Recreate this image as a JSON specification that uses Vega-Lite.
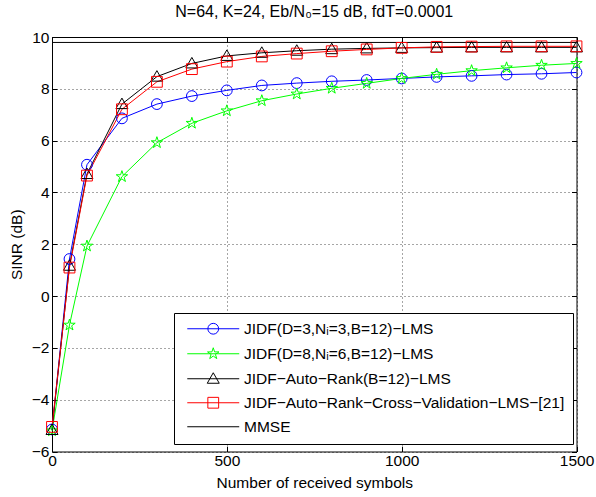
{
  "$schema": "https://vega.github.io/schema/vega-lite/v6.json",
  "autosize": "none",
  "width": 524.5,
  "height": 414.5,
  "padding": {"left": 52, "top": 37, "right": 19.5, "bottom": 45.5},
  "background": "white",
  "config": {
    "font": "Liberation Sans",
    "view": {"stroke": "black", "strokeWidth": 1},
    "axis": {"labelFont": "Liberation Sans", "titleFont": "Liberation Sans", "labelColor": "black", "titleColor": "black", "tickColor": "black", "labelFontSize": 15.5, "titleFontSize": 15.5, "titleFontWeight": "normal"}
  },
  "title": {"text": "N=64, K=24, Eb/N\u2080=15 dB, fdT=0.0001", "fontSize": 16, "fontWeight": "normal", "font": "Liberation Sans", "color": "black", "offset": 10},
  "data": {"values": [
    {"s": "JIDF(D=3,N\u1d62=3,B=12)\u2212LMS", "x": 0, "y": -5.15},
    {"s": "JIDF(D=3,N\u1d62=3,B=12)\u2212LMS", "x": 50, "y": 1.43},
    {"s": "JIDF(D=3,N\u1d62=3,B=12)\u2212LMS", "x": 100, "y": 5.07},
    {"s": "JIDF(D=3,N\u1d62=3,B=12)\u2212LMS", "x": 200, "y": 6.86},
    {"s": "JIDF(D=3,N\u1d62=3,B=12)\u2212LMS", "x": 300, "y": 7.41},
    {"s": "JIDF(D=3,N\u1d62=3,B=12)\u2212LMS", "x": 400, "y": 7.72},
    {"s": "JIDF(D=3,N\u1d62=3,B=12)\u2212LMS", "x": 500, "y": 7.94},
    {"s": "JIDF(D=3,N\u1d62=3,B=12)\u2212LMS", "x": 600, "y": 8.13},
    {"s": "JIDF(D=3,N\u1d62=3,B=12)\u2212LMS", "x": 700, "y": 8.22},
    {"s": "JIDF(D=3,N\u1d62=3,B=12)\u2212LMS", "x": 800, "y": 8.29},
    {"s": "JIDF(D=3,N\u1d62=3,B=12)\u2212LMS", "x": 900, "y": 8.34},
    {"s": "JIDF(D=3,N\u1d62=3,B=12)\u2212LMS", "x": 1000, "y": 8.40},
    {"s": "JIDF(D=3,N\u1d62=3,B=12)\u2212LMS", "x": 1100, "y": 8.46},
    {"s": "JIDF(D=3,N\u1d62=3,B=12)\u2212LMS", "x": 1200, "y": 8.50},
    {"s": "JIDF(D=3,N\u1d62=3,B=12)\u2212LMS", "x": 1300, "y": 8.55},
    {"s": "JIDF(D=3,N\u1d62=3,B=12)\u2212LMS", "x": 1400, "y": 8.58},
    {"s": "JIDF(D=3,N\u1d62=3,B=12)\u2212LMS", "x": 1500, "y": 8.63},
    {"s": "JIDF(D=8,N\u1d62=6,B=12)\u2212LMS", "x": 0, "y": -5.2},
    {"s": "JIDF(D=8,N\u1d62=6,B=12)\u2212LMS", "x": 50, "y": -1.12},
    {"s": "JIDF(D=8,N\u1d62=6,B=12)\u2212LMS", "x": 100, "y": 1.93},
    {"s": "JIDF(D=8,N\u1d62=6,B=12)\u2212LMS", "x": 200, "y": 4.61},
    {"s": "JIDF(D=8,N\u1d62=6,B=12)\u2212LMS", "x": 300, "y": 5.92},
    {"s": "JIDF(D=8,N\u1d62=6,B=12)\u2212LMS", "x": 400, "y": 6.67},
    {"s": "JIDF(D=8,N\u1d62=6,B=12)\u2212LMS", "x": 500, "y": 7.15},
    {"s": "JIDF(D=8,N\u1d62=6,B=12)\u2212LMS", "x": 600, "y": 7.54},
    {"s": "JIDF(D=8,N\u1d62=6,B=12)\u2212LMS", "x": 700, "y": 7.80},
    {"s": "JIDF(D=8,N\u1d62=6,B=12)\u2212LMS", "x": 800, "y": 8.02},
    {"s": "JIDF(D=8,N\u1d62=6,B=12)\u2212LMS", "x": 900, "y": 8.21},
    {"s": "JIDF(D=8,N\u1d62=6,B=12)\u2212LMS", "x": 1000, "y": 8.40},
    {"s": "JIDF(D=8,N\u1d62=6,B=12)\u2212LMS", "x": 1100, "y": 8.56},
    {"s": "JIDF(D=8,N\u1d62=6,B=12)\u2212LMS", "x": 1200, "y": 8.70},
    {"s": "JIDF(D=8,N\u1d62=6,B=12)\u2212LMS", "x": 1300, "y": 8.81},
    {"s": "JIDF(D=8,N\u1d62=6,B=12)\u2212LMS", "x": 1400, "y": 8.91},
    {"s": "JIDF(D=8,N\u1d62=6,B=12)\u2212LMS", "x": 1500, "y": 8.98},
    {"s": "JIDF\u2212Auto\u2212Rank(B=12)\u2212LMS", "x": 0, "y": -5.17},
    {"s": "JIDF\u2212Auto\u2212Rank(B=12)\u2212LMS", "x": 50, "y": 1.17},
    {"s": "JIDF\u2212Auto\u2212Rank(B=12)\u2212LMS", "x": 100, "y": 4.71},
    {"s": "JIDF\u2212Auto\u2212Rank(B=12)\u2212LMS", "x": 200, "y": 7.41},
    {"s": "JIDF\u2212Auto\u2212Rank(B=12)\u2212LMS", "x": 300, "y": 8.47},
    {"s": "JIDF\u2212Auto\u2212Rank(B=12)\u2212LMS", "x": 400, "y": 8.98},
    {"s": "JIDF\u2212Auto\u2212Rank(B=12)\u2212LMS", "x": 500, "y": 9.27},
    {"s": "JIDF\u2212Auto\u2212Rank(B=12)\u2212LMS", "x": 600, "y": 9.39},
    {"s": "JIDF\u2212Auto\u2212Rank(B=12)\u2212LMS", "x": 700, "y": 9.47},
    {"s": "JIDF\u2212Auto\u2212Rank(B=12)\u2212LMS", "x": 800, "y": 9.53},
    {"s": "JIDF\u2212Auto\u2212Rank(B=12)\u2212LMS", "x": 900, "y": 9.56},
    {"s": "JIDF\u2212Auto\u2212Rank(B=12)\u2212LMS", "x": 1000, "y": 9.58},
    {"s": "JIDF\u2212Auto\u2212Rank(B=12)\u2212LMS", "x": 1100, "y": 9.59},
    {"s": "JIDF\u2212Auto\u2212Rank(B=12)\u2212LMS", "x": 1200, "y": 9.60},
    {"s": "JIDF\u2212Auto\u2212Rank(B=12)\u2212LMS", "x": 1300, "y": 9.60},
    {"s": "JIDF\u2212Auto\u2212Rank(B=12)\u2212LMS", "x": 1400, "y": 9.60},
    {"s": "JIDF\u2212Auto\u2212Rank(B=12)\u2212LMS", "x": 1500, "y": 9.60},
    {"s": "JIDF\u2212Auto\u2212Rank\u2212Cross\u2212Validation\u2212LMS\u2212[21]", "x": 0, "y": -5.05},
    {"s": "JIDF\u2212Auto\u2212Rank\u2212Cross\u2212Validation\u2212LMS\u2212[21]", "x": 50, "y": 1.10},
    {"s": "JIDF\u2212Auto\u2212Rank\u2212Cross\u2212Validation\u2212LMS\u2212[21]", "x": 100, "y": 4.65},
    {"s": "JIDF\u2212Auto\u2212Rank\u2212Cross\u2212Validation\u2212LMS\u2212[21]", "x": 200, "y": 7.21},
    {"s": "JIDF\u2212Auto\u2212Rank\u2212Cross\u2212Validation\u2212LMS\u2212[21]", "x": 300, "y": 8.27},
    {"s": "JIDF\u2212Auto\u2212Rank\u2212Cross\u2212Validation\u2212LMS\u2212[21]", "x": 400, "y": 8.76},
    {"s": "JIDF\u2212Auto\u2212Rank\u2212Cross\u2212Validation\u2212LMS\u2212[21]", "x": 500, "y": 9.05},
    {"s": "JIDF\u2212Auto\u2212Rank\u2212Cross\u2212Validation\u2212LMS\u2212[21]", "x": 600, "y": 9.25},
    {"s": "JIDF\u2212Auto\u2212Rank\u2212Cross\u2212Validation\u2212LMS\u2212[21]", "x": 700, "y": 9.36},
    {"s": "JIDF\u2212Auto\u2212Rank\u2212Cross\u2212Validation\u2212LMS\u2212[21]", "x": 800, "y": 9.45},
    {"s": "JIDF\u2212Auto\u2212Rank\u2212Cross\u2212Validation\u2212LMS\u2212[21]", "x": 900, "y": 9.52},
    {"s": "JIDF\u2212Auto\u2212Rank\u2212Cross\u2212Validation\u2212LMS\u2212[21]", "x": 1000, "y": 9.58},
    {"s": "JIDF\u2212Auto\u2212Rank\u2212Cross\u2212Validation\u2212LMS\u2212[21]", "x": 1100, "y": 9.62},
    {"s": "JIDF\u2212Auto\u2212Rank\u2212Cross\u2212Validation\u2212LMS\u2212[21]", "x": 1200, "y": 9.63},
    {"s": "JIDF\u2212Auto\u2212Rank\u2212Cross\u2212Validation\u2212LMS\u2212[21]", "x": 1300, "y": 9.64},
    {"s": "JIDF\u2212Auto\u2212Rank\u2212Cross\u2212Validation\u2212LMS\u2212[21]", "x": 1400, "y": 9.64},
    {"s": "JIDF\u2212Auto\u2212Rank\u2212Cross\u2212Validation\u2212LMS\u2212[21]", "x": 1500, "y": 9.64},
    {"s": "MMSE", "x": 0, "y": 9.79},
    {"s": "MMSE", "x": 1500, "y": 9.79}
  ]},
  "resolve": {"axis": {"x": "independent", "y": "independent"}},
  "layer": [
    {
      "mark": {"type": "line", "strokeWidth": 1},
      "encoding": {
        "x": {"field": "x", "type": "quantitative", "scale": {"domain": [0, 1500], "nice": false, "zero": false},
          "axis": {"orient": "bottom", "values": [0, 500, 1000, 1500], "format": "d", "grid": true, "gridColor": "black", "gridOpacity": 0.7, "gridDash": [1, 3], "domain": false, "tickSize": -5, "labelPadding": 7, "labelFlush": false, "title": "Number of received symbols", "titlePadding": 6}},
        "y": {"field": "y", "type": "quantitative", "scale": {"domain": [-6, 10], "nice": false, "zero": false},
          "axis": {"orient": "left", "values": [-6, -4, -2, 0, 2, 4, 6, 8, 10], "format": "d", "grid": true, "gridColor": "black", "gridOpacity": 0.7, "gridDash": [1, 3], "domain": false, "tickSize": -5, "labelPadding": 8, "labelFlush": false, "title": "SINR (dB)", "titlePadding": 7}},
        "color": {"field": "s", "type": "nominal",
          "scale": {"domain": ["JIDF(D=3,N\u1d62=3,B=12)\u2212LMS", "JIDF(D=8,N\u1d62=6,B=12)\u2212LMS", "JIDF\u2212Auto\u2212Rank(B=12)\u2212LMS", "JIDF\u2212Auto\u2212Rank\u2212Cross\u2212Validation\u2212LMS\u2212[21]", "MMSE"],
            "range": ["#0000ff", "#00ff00", "#000000", "#ff0000", "#000000"]},
          "legend": {"orient": "none", "legendX": 122, "legendY": 276, "title": null, "fillColor": "white", "strokeColor": "black", "padding": 8, "rowPadding": 7, "symbolOffset": 23.5, "labelOffset": 23, "labelFont": "Liberation Sans", "labelFontSize": 15.5, "labelColor": "black", "labelLimit": 600, "symbolSize": 144, "symbolStrokeWidth": 1,
            "encode": {"symbols": {"update": {
              "shape": {"signal": "['M-4.33,0L4.33,0M0.9,0A0.9,0.9 0 1 1 -0.9,0A0.9,0.9 0 1 1 0.9,0Z', 'M-4.33,0L4.33,0M0,-1L0.2245,-0.309L0.951,-0.309L0.3633,0.118L0.5878,0.809L0,0.382L-0.5878,0.809L-0.3633,0.118L-0.951,-0.309L-0.2245,-0.309Z', 'M-4.33,0L4.33,0M0,-1L1,0.75L-1,0.75Z', 'M-4.33,0L4.33,0M-0.9,-0.9L0.9,-0.9L0.9,0.9L-0.9,0.9Z', 'M-4.33,0L4.33,0'][datum.index]"},
              "fill": {"value": "transparent"},
              "strokeWidth": {"value": 1}
            }}}
          }
        }
      }
    },
    {
      "transform": [{"filter": "datum.s != 'MMSE'"}],
      "mark": {"type": "point", "filled": false, "size": 144, "strokeWidth": 1, "opacity": 1},
      "encoding": {
        "x": {"field": "x", "type": "quantitative",
          "axis": {"orient": "top", "values": [0, 500, 1000, 1500], "labels": false, "grid": false, "domain": false, "tickSize": -5, "title": null}},
        "y": {"field": "y", "type": "quantitative",
          "axis": {"orient": "right", "values": [-6, -4, -2, 0, 2, 4, 6, 8, 10], "labels": false, "grid": false, "domain": false, "tickSize": -5, "title": null}},
        "color": {"field": "s", "type": "nominal"},
        "shape": {"field": "s", "type": "nominal", "legend": null,
          "scale": {"domain": ["JIDF(D=3,N\u1d62=3,B=12)\u2212LMS", "JIDF(D=8,N\u1d62=6,B=12)\u2212LMS", "JIDF\u2212Auto\u2212Rank(B=12)\u2212LMS", "JIDF\u2212Auto\u2212Rank\u2212Cross\u2212Validation\u2212LMS\u2212[21]"],
            "range": ["M0.9,0A0.9,0.9 0 1 1 -0.9,0A0.9,0.9 0 1 1 0.9,0Z", "M0,-1L0.2245,-0.309L0.951,-0.309L0.3633,0.118L0.5878,0.809L0,0.382L-0.5878,0.809L-0.3633,0.118L-0.951,-0.309L-0.2245,-0.309Z", "M0,-1L1,0.75L-1,0.75Z", "M-0.9,-0.9L0.9,-0.9L0.9,0.9L-0.9,0.9Z"]}}
      }
    }
  ]
}
